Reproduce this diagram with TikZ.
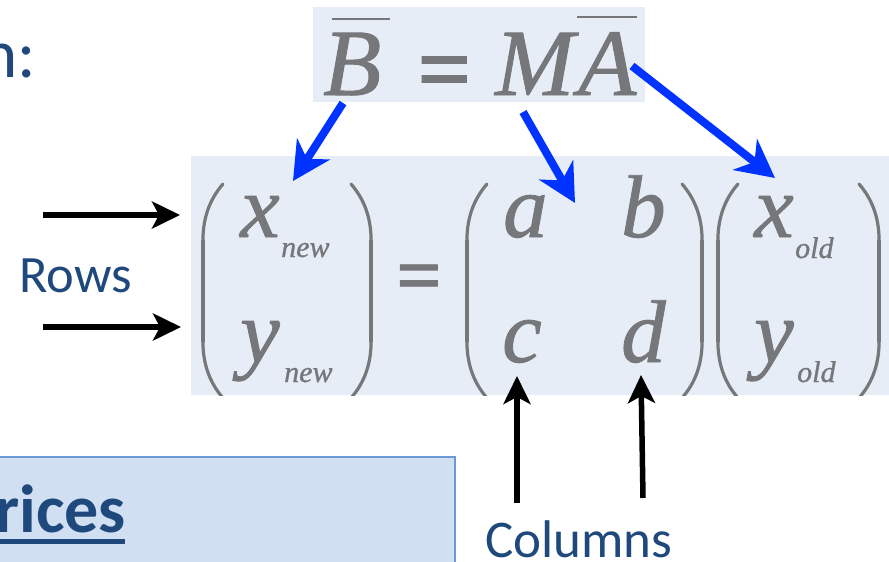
\documentclass[tikz,border=0pt]{standalone}
\usepackage{fontspec}
\setmainfont{Liberation Serif}
\newfontfamily\calfont{Carlito}
\newfontfamily\mathfont{Liberation Serif}[FakeBold=1,ItalicFeatures={FakeBold=1},BoldFeatures={FakeBold=1}]
\usetikzlibrary{arrows.meta}
\definecolor{mathgrey}{RGB}{118,119,123}
\definecolor{arrowblue}{RGB}{0,51,255}
\definecolor{textblue}{RGB}{31,73,125}
\definecolor{boxlight}{RGB}{230,237,247}
\definecolor{bottomfill}{RGB}{208,224,242}
\definecolor{bottomedge}{RGB}{108,155,210}
\tikzset{
  glyph/.style={inner sep=0pt, anchor=base west, text=mathgrey, font=\mathfont\itshape\fontsize{89}{89}\selectfont},
  subglyph/.style={inner sep=0pt, anchor=base west, text=mathgrey, font=\mathfont\itshape\fontsize{30}{30}\selectfont},
  bigglyph/.style={inner sep=0pt, anchor=base west, text=mathgrey, font=\mathfont\itshape\fontsize{95}{95}\selectfont},
  eqsign/.style={inner sep=0pt, anchor=base, text=mathgrey},
  parenline/.style={draw=mathgrey, line width=3.2pt, line cap=round},
  bluearrow/.style={draw=arrowblue, line width=8pt, -{Stealth[length=38pt,width=39pt,inset=12pt]}},
  blackarrow/.style={draw=black, line width=5.5pt, -{Stealth[length=28pt,width=27pt,inset=7pt]}},
  bluetext/.style={inner sep=0pt, anchor=base west, text=textblue},
  lparen/.pic={
    \draw[parenline] (20,184) .. controls (6,200) and (0.8,218) .. (0,236) -- (0,346) .. controls (0.8,364) and (6,382) .. (20,398);
    \draw[parenline, line width=4.6pt, line cap=butt] (0,240) -- (0,342);
  }
}
\begin{document}
\begin{tikzpicture}[x=1pt,y=-1pt]
\useasboundingbox (0,0) rectangle (889,562);
\clip (0,0) rectangle (889,562);
\fill[white] (0,0) rectangle (889,562);

% boxes
\fill[boxlight] (313,7) rectangle (645,102);
\fill[boxlight] (191,156) rectangle (895,395);
\filldraw[fill=bottomfill, draw=bottomedge, line width=2pt] (-5,457) rectangle (455,575);

% texts
\node[bluetext, font=\calfont\fontsize{69}{69}\selectfont] (title) at (-19,77) {n:};
\node[bluetext, font=\calfont\fontsize{52.5}{52.5}\selectfont] (rows) at (19,292) {Rows};
\node[bluetext, font=\calfont\fontsize{53}{53}\selectfont] (cols) at (485,557) {Columns};
\node[bluetext, font=\calfont\bfseries\fontsize{68}{68}\selectfont] (rices) at (-5,532) {rices};
\draw[textblue, line width=5pt] (-10,541.5) -- (125,541.5);

% top equation
\node[bigglyph] (B) at (323,95) {B};
\node[eqsign, font=\mathfont\bfseries\fontsize{95}{95}\selectfont] (eqtop) at (444.5,101) {=};
\node[bigglyph] (M) at (495,95) {M};
\node[bigglyph] (A) at (578,95) {A};
\draw[mathgrey, line width=2.7pt] (332,19) -- (390,19);
\draw[mathgrey, line width=2.7pt] (577,17) -- (637,17);

% matrix equation
\node[glyph] (xn) at (240,237) {x};
\node[subglyph] (xnsub) at (281,257) {new};
\node[glyph] (yn) at (240,362) {y};
\node[subglyph] (ynsub) at (284,382) {new};
\node[eqsign, font=\mathfont\bfseries\fontsize{80}{80}\selectfont] (eqmat) at (419,302) {=};
\node[glyph] (ma) at (503,237) {a};
\node[glyph] (mb) at (621,237) {b};
\node[glyph] (mc) at (502,362) {c};
\node[glyph] (md) at (621,362) {d};
\node[glyph] (xo) at (754,237) {x};
\node[subglyph] (xosub) at (795,258) {old};
\node[glyph] (yo) at (754,362) {y};
\node[subglyph] (yosub) at (797,382) {old};

\begin{scope}
\clip (0,0) rectangle (889,395);
\pic at (203,0) {lparen};
\pic[xscale=-1] at (371,0) {lparen};
\pic at (467,0) {lparen};
\pic[xscale=-1] at (702,0) {lparen};
\pic at (718,0) {lparen};
\pic[xscale=-1] at (879,0) {lparen};
\end{scope}

% blue arrows
\coordinate (bTail) at (343,103);
\coordinate (xnTip) at (293,181);
\coordinate (mTail) at (523,112);
\coordinate (abTip) at (575,203);
\coordinate (aTail) at (632,66);
\coordinate (xoTip) at (775,178);
\draw[bluearrow] (bTail) -- (xnTip);
\draw[bluearrow] (mTail) -- (abTip);
\draw[bluearrow] (aTail) -- (xoTip);

% black arrows
\coordinate (r1s) at (43,215);
\coordinate (r1e) at (180,215);
\coordinate (r2s) at (43,327);
\coordinate (r2e) at (181,327);
\coordinate (c1s) at (517,503);
\coordinate (c1e) at (517,376);
\coordinate (c2s) at (643,498);
\coordinate (c2e) at (641,375);
\draw[blackarrow] (r1s) -- (r1e);
\draw[blackarrow] (r2s) -- (r2e);
\draw[blackarrow] (c1s) -- (c1e);
\draw[blackarrow] (c2s) -- (c2e);
\end{tikzpicture}
\end{document}
